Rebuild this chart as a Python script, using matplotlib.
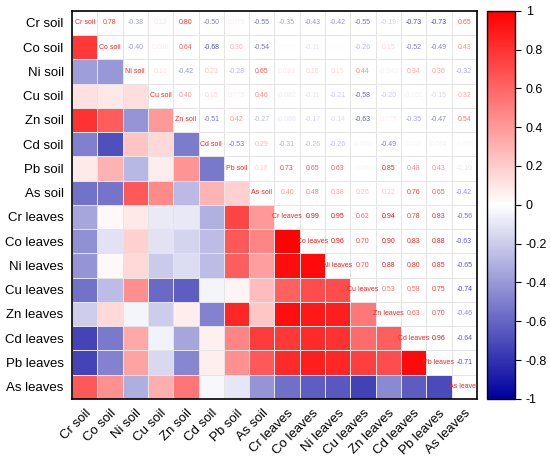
import numpy as np
import matplotlib.pyplot as plt
from matplotlib.colors import LinearSegmentedColormap, Normalize

plt.rcParams['font.family'] = ['Liberation Sans', 'DejaVu Sans']

labels = ['Cr soil', 'Co soil', 'Ni soil', 'Cu soil', 'Zn soil', 'Cd soil', 'Pb soil', 'As soil',
          'Cr leaves', 'Co leaves', 'Ni leaves', 'Cu leaves', 'Zn leaves', 'Cd leaves',
          'Pb leaves', 'As leaves']

# upper triangle rows (values to the right of the diagonal)
upper = [
    [0.78, -0.38, 0.12, 0.80, -0.50, 0.079, -0.55, -0.35, -0.43, -0.42, -0.55, -0.19, -0.73, -0.73, 0.65],
    [-0.40, 0.088, 0.64, -0.68, 0.30, -0.54, 0.030, -0.11, 0.030, -0.26, 0.15, -0.52, -0.49, 0.43],
    [0.13, -0.42, 0.23, -0.28, 0.65, 0.093, 0.18, 0.15, 0.44, -0.040, 0.34, 0.36, -0.32],
    [0.40, 0.15, 0.075, 0.46, -0.082, -0.11, -0.21, -0.58, -0.20, -0.050, -0.15, 0.32],
    [-0.51, 0.42, -0.27, -0.088, -0.17, -0.14, -0.63, 0.075, -0.35, -0.47, 0.54],
    [-0.53, 0.29, -0.31, -0.26, -0.26, -0.040, -0.49, 0.062, 0.064, -0.030],
    [0.18, 0.73, 0.65, 0.63, 0.040, 0.85, 0.48, 0.43, -0.10],
    [0.40, 0.48, 0.38, 0.26, 0.22, 0.76, 0.65, -0.42],
    [0.99, 0.95, 0.62, 0.94, 0.78, 0.83, -0.56],
    [0.96, 0.70, 0.90, 0.83, 0.88, -0.63],
    [0.70, 0.88, 0.80, 0.85, -0.65],
    [0.53, 0.58, 0.75, -0.74],
    [0.63, 0.70, -0.46],
    [0.96, -0.64],
    [-0.71],
]

n = len(labels)
M = np.eye(n)
for i, row in enumerate(upper):
    for k, v in enumerate(row):
        j = i + 1 + k
        M[i, j] = v
        M[j, i] = v

cmap = LinearSegmentedColormap.from_list('bwr2', [(0.0, 0.0, 0.62), (1, 1, 1), (1, 0, 0)])
cmap.set_bad('white')
norm = Normalize(-1, 1)

# lower triangle only gets coloured cells
low = np.ma.masked_where(np.triu(np.ones((n, n), bool)), M)

fig = plt.figure(figsize=(5.5, 4.66), dpi=100)
ax = fig.add_axes([0.131, 0.144, 0.736, 0.833])
mesh = ax.pcolormesh(low, cmap=cmap, norm=norm, edgecolors='#e4e4e4', linewidth=0.5)
ax.set_xlim(0, n)
ax.set_ylim(n, 0)

for i in range(n):
    for j in range(n):
        if j > i:
            ax.text(j + 0.5, i + 0.5, f'{M[i, j]:.2f}' if abs(M[i, j]) >= 0.1 else f'{M[i, j]:.3f}'.replace('0.0', '0.0'),
                    ha='center', va='center', fontsize=5, color=cmap(norm(M[i, j])))
        elif j == i:
            ax.text(j + 0.5, i + 0.5, labels[i], ha='center', va='center', fontsize=5,
                    color='#ff2020', clip_on=True)

ax.set_xticks(np.arange(n) + 0.5)
ax.set_yticks(np.arange(n) + 0.5)
ax.set_xticklabels(labels, rotation=45, ha='right', rotation_mode='anchor', fontsize=9.5)
ax.set_yticklabels(labels, fontsize=9.5)
ax.tick_params(length=0, pad=6)
for s in ax.spines.values():
    s.set_linewidth(1.2)

cax = fig.add_axes([0.885, 0.144, 0.052, 0.833])
cb = fig.colorbar(mesh, cax=cax, ticks=np.linspace(-1, 1, 11))
cb.ax.set_yticklabels(['-1', '-0.8', '-0.6', '-0.4', '-0.2', '0', '0.2', '0.4', '0.6', '0.8', '1'])
cb.ax.tick_params(labelsize=9, length=4, width=0.8)
cb.outline.set_linewidth(1.0)

plt.savefig('out.png', dpi=100)
